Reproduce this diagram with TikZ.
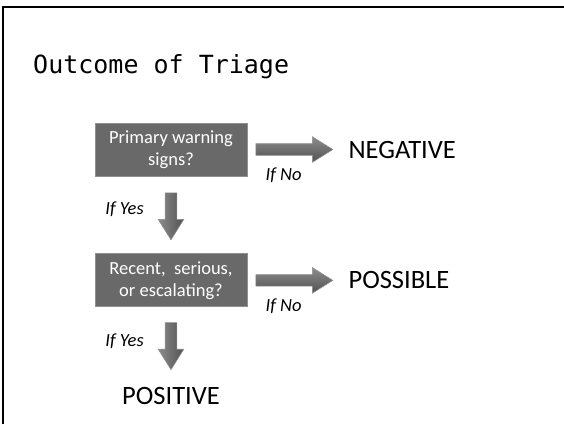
\documentclass[tikz,border=0pt]{standalone}
\usepackage{fontspec}
\setmainfont{Carlito}
\newfontfamily\titlefont{DejaVu Sans Mono}
\usetikzlibrary{positioning, shapes.arrows}
\definecolor{boxgray}{HTML}{696969}
\definecolor{rimgray}{HTML}{909090}
\tikzset{
	x=1pt, y=-1pt,
	qbox/.style={
		draw=rimgray,
		fill=boxgray,
		line width=1pt,
		text=white,
		align=center,
		minimum width=152pt,
		minimum height=53pt,
		inner sep=2pt,
		font=\fontsize{18.5}{22}\selectfont
	},
	rarrow/.style={
		single arrow,
		draw=rimgray,
		top color=black!45,
		bottom color=black!68,
		line width=.6pt,
		minimum height=77pt,
		single arrow head extend=7pt,
		single arrow tip angle=64,
		inner sep=5.5pt
	},
	darrow/.style={
		rarrow,
		shape border rotate=270,
		left color=black!45,
		right color=black!68,
		minimum height=47pt
	},
	outcome/.style={
		inner sep=0pt,
		font=\fontsize{26.5}{30}\selectfont
	},
	cond/.style={
		inner sep=0pt,
		font=\fontsize{18.5}{22}\selectfont\itshape
	}
}

\begin{document}
\begin{tikzpicture}
	\useasboundingbox (0,0) rectangle (564,424);
	\draw[line width=2.5pt] (3,424) -- (3,7) -- (564,7);

	\node[anchor=base west, inner sep=0pt, font=\titlefont\fontsize{25}{30}\selectfont] (title) at (33,73) {Outcome of Triage};

	\node[qbox] (warn) at (171,149.5) {Primary warning\\signs?};
	\node[rarrow, right=8pt of warn] (noarr1) {};
	\node[outcome, right=15pt of noarr1] (neg) {NEGATIVE};
	\node[cond, below=12pt of noarr1, xshift=-6pt] (no1) {If No};

	\node[darrow, below=16pt of warn] (yesarr1) {};
	\node[cond, left=21pt of yesarr1, yshift=2pt] (yes1) {If Yes};

	\node[qbox, below=13pt of yesarr1] (recent) {Recent,\ \ serious,\\or escalating?};
	\node[rarrow, right=8pt of recent] (noarr2) {};
	\node[outcome, right=15pt of noarr2] (poss) {POSSIBLE};
	\node[cond, below=12pt of noarr2, xshift=-6pt] (no2) {If No};

	\node[darrow, below=15pt of recent] (yesarr2) {};
	\node[cond, left=21pt of yesarr2] (yes2) {If Yes};
	\node[outcome, below=17pt of yesarr2] (pos) {POSITIVE};
\end{tikzpicture}
\end{document}
